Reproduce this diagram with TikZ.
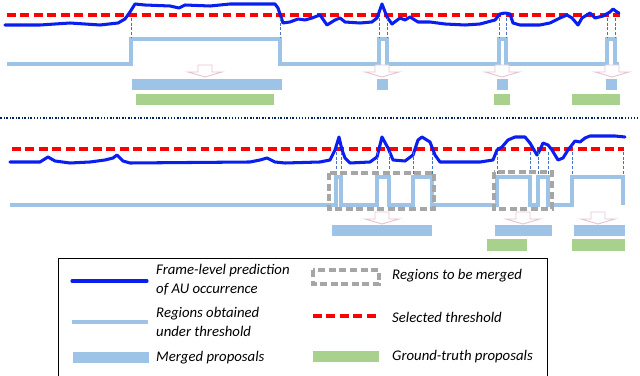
\documentclass[tikz,border=0pt]{standalone}
\usepackage{fontspec}
\setmainfont{Carlito}
\usepackage{tikz}

\definecolor{predblue}{RGB}{10,30,240}
\definecolor{regblue}{RGB}{157,195,230}
\definecolor{gtgreen}{RGB}{169,209,142}
\definecolor{mergegray}{RGB}{166,166,166}
\definecolor{cutblue}{RGB}{68,114,196}
\definecolor{arrowpink}{RGB}{230,196,212}
\definecolor{sepnavy}{RGB}{0,32,96}

\tikzset{
  pred/.style={draw=predblue, line width=2.6pt, line join=round, line cap=round},
  regions/.style={draw=regblue, line width=3.2pt},
  thresh/.style={draw=red, line width=3pt, dash pattern=on 7.5pt off 4pt},
  cut/.style={draw=cutblue, line width=0.6pt, dash pattern=on 2.5pt off 1.5pt},
  tomerge/.style={draw=mergegray, line width=2.8pt, dash pattern=on 6pt off 3pt},
  merged/.style={fill=regblue},
  truth/.style={fill=gtgreen},
  mergearrow/.style={draw=arrowpink, fill=white, line width=0.8pt},
  legtext/.style={font=\fontsize{12.6}{16.5}\selectfont\itshape, align=left, anchor=west, inner sep=0pt}
}

\begin{document}
\begin{tikzpicture}[x=0.03cm, y=-0.03cm]
  \useasboundingbox (0,0) rectangle (640,376);

  % upper example
  \draw[thresh] (7,15) -- (620,15);
  \draw[pred] plot coordinates {(5,25) (40,25) (70,23) (100,25) (118,23) (125,19) (130,12) (135,4)
    (145,5) (170,6) (179,8) (185,5) (210,6) (230,4) (275,4) (278,8) (283,23) (290,22) (298,19)
    (305,20) (312,18) (320,15) (327,25) (335,20) (340,18) (345,22) (360,23) (372,22) (377,18)
    (382,4) (387,17) (392,24) (400,18) (405,20) (410,17) (418,22) (430,22) (445,24) (465,25)
    (480,24) (495,20) (500,14) (505,13) (510,14) (513,23) (520,25) (540,25) (550,23) (560,18)
    (567,15) (572,18) (578,25) (582,18) (590,13) (595,18) (603,16) (610,12) (613,9) (617,12) (619,13)};
  \draw[regions] (7,64) -- (131,64) -- (131,39) -- (280,39) -- (280,64) -- (379,64) -- (379,39)
    -- (387,39) -- (387,64) -- (499,64) -- (499,39) -- (506,39) -- (506,64) -- (607,64)
    -- (607,39) -- (615,39) -- (615,64) -- (619,64);
  \foreach \x in {131, 280, 379, 387, 499, 506, 607, 615}
    \draw[cut] (\x,18) -- (\x,37);
  \fill[merged] (132,79) rectangle (282,90);
  \fill[merged] (377,79) rectangle (388,90);
  \fill[merged] (497,79) rectangle (508,90);
  \fill[merged] (606,79) rectangle (617,90);
  \fill[truth] (136,94) rectangle (274,105);
  \fill[truth] (494,94) rectangle (510,105);
  \fill[truth] (572,94) rectangle (620,105);

  % separator
  \draw[sepnavy, line width=1.3pt, dash pattern=on 1.6pt off 1.4pt on 0.8pt off 1.4pt] (0,118) -- (640,118);

  % lower example
  \draw[thresh] (12,149) -- (624,149);
  \draw[pred] plot coordinates {(10,162) (40,162) (48,157) (55,161) (70,163) (90,162) (105,160)
    (113,158) (117,155) (123,161) (130,163) (250,162) (260,160) (267,158) (275,162) (285,163)
    (320,162) (330,160) (335,150) (339,137) (342,150) (345,158) (350,163) (370,162) (377,157)
    (382,137) (388,148) (393,160) (405,161) (413,155) (418,140) (422,137) (430,142) (435,155)
    (440,162) (480,162) (493,160) (497,150) (502,147) (508,140) (515,137) (525,137) (530,143)
    (537,155) (540,150) (543,143) (548,145) (552,150) (558,160) (563,158) (568,150) (575,141)
    (580,142) (585,138) (590,136) (615,136) (625,137)};
  \draw[regions] (10,205) -- (336,205) -- (336,177) -- (341,177) -- (341,205) -- (377,205)
    -- (377,177) -- (389,177) -- (389,205) -- (413,205) -- (413,177) -- (432,177) -- (432,205)
    -- (497,205) -- (497,177) -- (530,177) -- (530,205) -- (538,205) -- (538,177) -- (548,177)
    -- (548,205) -- (572,205) -- (572,177) -- (623,177) -- (623,205);
  \foreach \x in {336, 341, 377, 389, 413, 432, 497, 530, 538, 548, 572, 623}
    \draw[cut] (\x,152) -- (\x,174);
  \draw[tomerge] (329,173) rectangle (434,209);
  \draw[tomerge] (494,172) rectangle (552,209);
  \fill[merged] (332,225) rectangle (432,236);
  \fill[merged] (495,225) rectangle (552,236);
  \fill[merged] (574,225) rectangle (625,236);
  \fill[truth] (487,239) rectangle (527,251);
  \fill[truth] (572,239) rectangle (625,251);

  % merging arrows
  \foreach \cx/\ty in {205/65, 382/65, 502/65, 612/65, 382/212, 523/212, 598/212}
    \draw[mergearrow] (\cx-7,\ty) -- (\cx+7,\ty) -- (\cx+7,\ty+7) -- (\cx+17,\ty+7) -- (\cx,\ty+12)
      -- (\cx-17,\ty+7) -- (\cx-7,\ty+7) -- cycle;

  % legend
  \draw[line width=0.8pt] (58,379) -- (58,258) -- (547,258) -- (547,379);
  \draw[pred] (72,281) -- (147,281);
  \node[legtext] (predtext) at (156,280) {Frame-level prediction\\of AU occurrence};
  \draw[regions] (72,322) -- (148,322);
  \node[legtext] (regtext) at (156,322) {Regions obtained\\under threshold};
  \fill[merged] (73,352) rectangle (149,363);
  \node[legtext] (mergedtext) at (156,358) {Merged proposals};
  \draw[tomerge] (313,270) rectangle (379,284);
  \node[legtext] (tomergetext) at (392,276) {Regions to be merged};
  \draw[thresh] (313,316) -- (379,316);
  \node[legtext] (threshtext) at (392,317) {Selected threshold};
  \fill[truth] (313,351) rectangle (379,362);
  \node[legtext] (truthtext) at (392,357) {Ground-truth proposals};
\end{tikzpicture}
\end{document}
